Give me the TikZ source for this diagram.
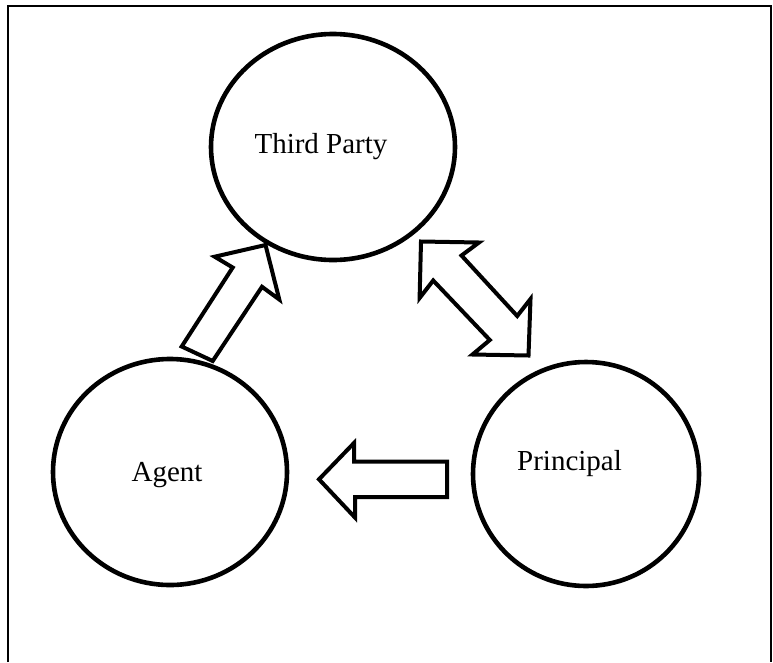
\documentclass[tikz,border=0pt]{standalone}
\usepackage{fontspec}
\setmainfont{Liberation Serif}
\begin{document}
\begin{tikzpicture}[x=1pt,y=-1pt,
  party/.style={draw=black,line width=4.6pt},
  blockarrow/.style={draw=black,line width=4pt,fill=white,line join=miter},
  lbl/.style={anchor=base,inner sep=0pt,font=\fontsize{29}{34}\selectfont},
  frame/.style={draw=black,line width=2pt}]
\useasboundingbox (0,0) rectangle (773,662);
% frame
\draw[frame] (8.3,662) -- (8.3,6.2) -- (770.7,6.2) -- (770.7,662);
% circles
\draw[party] (333,147) ellipse [x radius=122, y radius=113];
\draw[party] (170,472) ellipse [x radius=117, y radius=113];
\draw[party] (586,474) ellipse [x radius=113, y radius=112];
\coordinate (tp) at (333,147);
\coordinate (ag) at (170,472);
\coordinate (pr) at (586,474);
% labels
\node[lbl] (tptext) at (321,153) {Third Party};
\node[lbl] (agtext) at (167,481) {Agent};
\node[lbl] (prtext) at (569.5,470) {Principal};
% arrow agent -> third party
\draw[blockarrow] (265.5,245) -- (279.3,299.5) -- (262,286.8) -- (212.7,361) -- (181.7,346.5) -- (232.7,267.5) -- (214.7,256.7) -- cycle;
% double arrow third party <-> principal
\draw[blockarrow] (421,241.5) -- (479,242.5) -- (461.5,255.5) -- (517.2,316) -- (530.5,299) -- (528.5,355.5) -- (472.5,354.5) -- (489.8,340) -- (433.2,280.5) -- (419.6,298) -- cycle;
% arrow principal -> agent
\draw[blockarrow] (319,479.3) -- (354,443) -- (354,461.5) -- (447.2,461.5) -- (447.2,497) -- (355,497) -- (355,517.5) -- cycle;
\end{tikzpicture}
\end{document}
